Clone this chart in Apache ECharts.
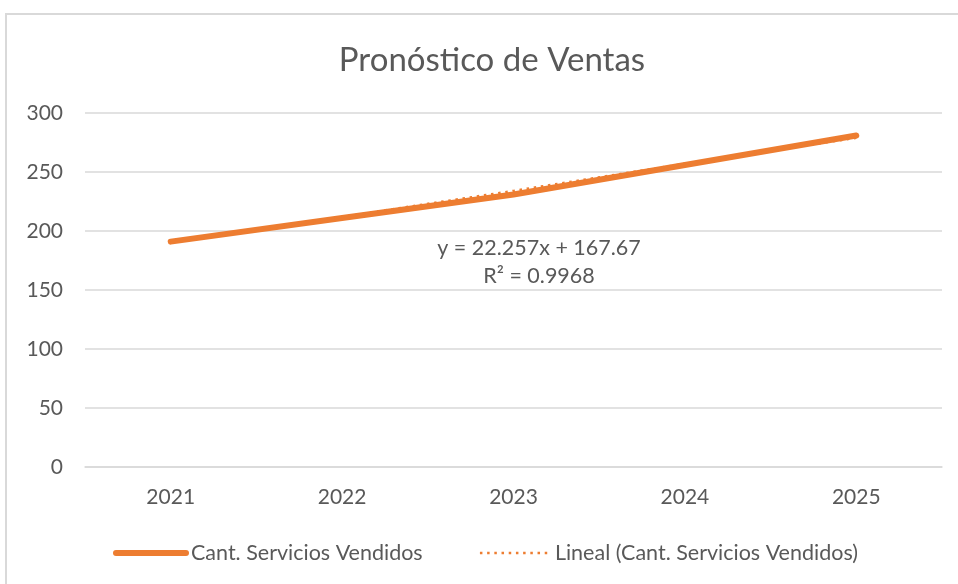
<!DOCTYPE html>
<html>
<head>
<meta charset="utf-8">
<script src="https://cdn.jsdelivr.net/npm/echarts@6/dist/echarts.min.js"></script>
<style>
  html, body { margin: 0; padding: 0; background: #fff; overflow: hidden; }
  #main {
    position: absolute; left: 5px; top: 13px;
    width: 970px; height: 590px;
    border-left: 2px solid #d9d9d9; border-top: 2px solid #d9d9d9;
  }
</style>
</head>
<body>
<div id="main"></div>
<script>
var years = ["2021", "2022", "2023", "2024", "2025"];
var vendidos = [191, 211, 231, 256, 281];
var tendencia = [190, 212, 234, 257, 279];
var yTicks = [0, 50, 100, 150, 200, 250, 300];

var naranja = "#ED7D31";
var gris = "#595959";
var fuente = "Lato";

var myChart = echarts.init(document.getElementById("main"));
var option = {
  animation: false,
  textStyle: { fontFamily: fuente },
  title: {
    text: "Pronóstico de Ventas",
    left: "center",
    top: 24,
    textStyle: { fontFamily: fuente, fontSize: 33, fontWeight: "normal", color: gris }
  },
  grid: { left: 78, right: 35, top: 98, bottom: 138, containLabel: false },
  legend: {
    top: 522,
    left: 101,
    itemGap: 56,
    itemWidth: 70,
    itemHeight: 12,
    textStyle: { fontFamily: fuente, fontSize: 21.5, color: gris, padding: [0, 0, 0, 0] },
    data: [
      {
        name: "Cant. Servicios Vendidos",
        itemStyle: { opacity: 0 },
        lineStyle: { width: 6, cap: "round", color: naranja }
      },
      {
        name: "Lineal (Cant. Servicios Vendidos)",
        itemStyle: { opacity: 0 },
        lineStyle: { width: 2.5, type: [2.5, 4.7], color: naranja }
      }
    ]
  },
  xAxis: {
    type: "category",
    data: years,
    boundaryGap: true,
    axisLine: { show: true, lineStyle: { color: "#d9d9d9", width: 1.5 } },
    axisTick: { show: false },
    axisLabel: { fontFamily: fuente, fontSize: 21, color: gris, margin: 20 }
  },
  yAxis: {
    type: "value",
    min: yTicks[0],
    max: yTicks[yTicks.length - 1],
    interval: 50,
    axisLine: { show: false },
    axisTick: { show: false },
    splitLine: { lineStyle: { color: "#d9d9d9", width: 1.5 } },
    axisLabel: { fontFamily: fuente, fontSize: 21, color: gris, margin: 22 }
  },
  graphic: [
    {
      type: "text",
      style: {
        x: 532, y: 233, text: "y = 22.257x + 167.67",
        font: "21.5px " + fuente, fill: gris,
        textAlign: "center", textVerticalAlign: "middle"
      }
    },
    {
      type: "text",
      style: {
        x: 532, y: 261, text: "R² = 0.9968",
        font: "21.5px " + fuente, fill: gris,
        textAlign: "center", textVerticalAlign: "middle"
      }
    }
  ],
  series: [
    {
      name: "Cant. Servicios Vendidos",
      type: "line",
      data: vendidos,
      symbol: "none",
      lineStyle: { color: naranja, width: 6, cap: "round" },
      itemStyle: { color: naranja },
      z: 2
    },
    {
      name: "Lineal (Cant. Servicios Vendidos)",
      type: "line",
      data: tendencia,
      symbol: "none",
      lineStyle: { color: naranja, width: 2.5, type: [2.5, 4.7] },
      itemStyle: { color: naranja },
      z: 3
    }
  ]
};
myChart.setOption(option);
</script>
</body>
</html>
